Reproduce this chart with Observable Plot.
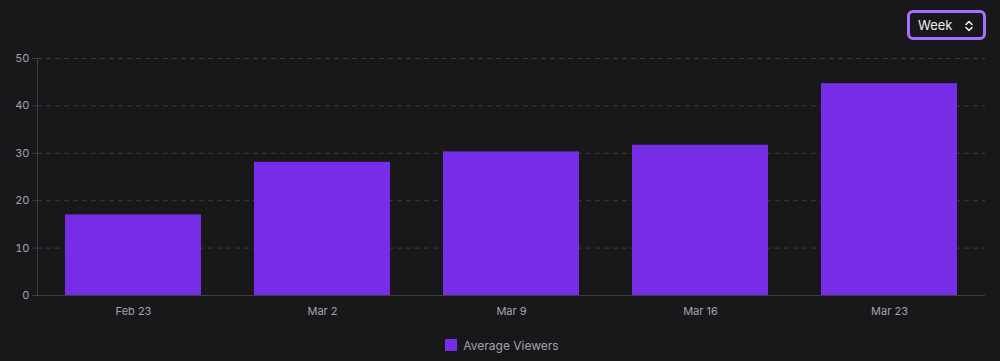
<!DOCTYPE html>
<html>
<head>
<meta charset="utf-8">
<script src="https://cdn.jsdelivr.net/npm/d3@7"></script>
<script src="https://cdn.jsdelivr.net/npm/@observablehq/plot@0.6"></script>
<style>
  html, body { margin: 0; padding: 0; background: #18181b; }
  body { width: 1000px; height: 361px; overflow: hidden; font-family: Inter, "Noto Sans", sans-serif; }
  #wrap { position: relative; width: 1000px; height: 361px; }
  #chart svg { display: block; }
  #btn {
    position: absolute; left: 907px; top: 10px; width: 79px; height: 30px;
    box-sizing: border-box; border: 3px solid #a970ff; border-radius: 6px;
    background: #18181b; color: #efeff1; font-size: 13px; font-weight: 400;
    display: flex; align-items: center; padding-left: 8px;
  }
  #btn svg { position: absolute; left: 53px; top: 6px; }
  #legend {
    position: absolute; top: 336px; left: 0; width: 1000px; height: 18px;
    display: flex; justify-content: center; align-items: center;
    color: #a3a3ab; font-size: 12px;
  }
  #legend .sw { width: 12px; height: 12px; background: #772ce8; margin-right: 6px; margin-left: 4px; }
</style>
</head>
<body>
<div id="wrap">
  <div id="chart"></div>
  <div id="btn">Week
    <svg width="12" height="14" viewBox="0 0 12 14"><path d="M3 5.5 L6 2.5 L9 5.5 M3 8.5 L6 11.5 L9 8.5" fill="none" stroke="#efeff1" stroke-width="1.6" stroke-linecap="round" stroke-linejoin="round"/></svg>
  </div>
  <div id="legend"><span class="sw"></span><span>Average Viewers</span></div>
</div>
<script>
const weeks = ["Feb 23", "Mar 2", "Mar 9", "Mar 16", "Mar 23"];
const averageViewers = [17, 28.1, 30.3, 31.7, 44.7];
const yTicks = [0, 10, 20, 30, 40, 50];

const data = weeks.map((w, i) => ({week: w, value: averageViewers[i]}));

const chart = Plot.plot({
  width: 1000,
  height: 328,
  marginTop: 58,
  marginBottom: 33,
  marginLeft: 37,
  marginRight: 15,
  style: {background: "transparent", color: "#a3a3ab", fontFamily: "Inter, 'Noto Sans', sans-serif", fontSize: "11px"},
  x: {domain: weeks, paddingInner: 0.28, paddingOuter: 0.14, label: null},
  y: {domain: [0, 50], label: null},
  marks: [
    Plot.ruleY(yTicks.filter(d => d > 0), {stroke: "#3d3d42", strokeDasharray: "5,4", strokeWidth: 1}),
    Plot.barY(data, {x: "week", y: "value", fill: "#772ce8"}),
    Plot.frame({anchor: "left", stroke: "#3d3d42"}),
    Plot.ruleY([0], {stroke: "#3d3d42"}),
    Plot.axisY({ticks: yTicks, tickSize: 5, tickPadding: 3, stroke: "#3d3d42", color: "#a3a3ab", label: null}),
    Plot.axisX({tickSize: 0, tickPadding: 12, color: "#a3a3ab", label: null})
  ]
});
document.getElementById("chart").appendChild(chart);
</script>
</body>
</html>
